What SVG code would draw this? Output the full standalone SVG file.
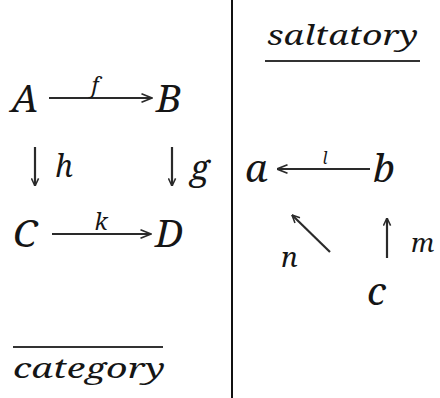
<svg xmlns="http://www.w3.org/2000/svg" width="440" height="398" viewBox="0 0 440 398">
<style>
.t{font-family:'Noto Serif','DejaVu Serif',serif;font-style:italic;fill:#151515}
.node{font-size:39px}
.c{stroke:#2a2a2a;stroke-width:2.2;fill:none}
.rule{stroke:#333;stroke-width:2}
</style>
<defs>
<marker id="ah" viewBox="0 0 12 10" refX="11.5" refY="5" markerWidth="12" markerHeight="10" markerUnits="userSpaceOnUse" orient="auto">
<path d="M1,0.8 L11.5,5 L1,9.2" fill="none" stroke="#2a2a2a" stroke-width="1.7"/>
</marker>
<marker id="as" viewBox="0 0 10 10" refX="9.5" refY="5" markerWidth="9" markerHeight="9" markerUnits="userSpaceOnUse" orient="auto">
<path d="M1,1 L9.5,5 L1,9" fill="none" stroke="#2a2a2a" stroke-width="1.7"/>
</marker>
</defs>
<rect width="440" height="398" fill="#fff"/>
<line x1="232" y1="0" x2="232" y2="398" stroke="#111" stroke-width="2"/>
<g id="title-saltatory">
<text class="t" x="267" y="45" font-size="28" textLength="151" lengthAdjust="spacingAndGlyphs">saltatory</text>
<line class="rule" x1="265" y1="61" x2="420" y2="61"/>
</g>
<g id="title-category">
<line class="rule" x1="13" y1="347" x2="163" y2="347"/>
<text class="t" x="13" y="378" font-size="28" textLength="152" lengthAdjust="spacingAndGlyphs">category</text>
</g>
<g id="connectors">
<line class="c" x1="49" y1="98" x2="152" y2="98" marker-end="url(#ah)"/>
<line class="c" x1="52" y1="234" x2="151" y2="234" marker-end="url(#ah)"/>
<line class="c" x1="35" y1="147" x2="35" y2="186" marker-end="url(#as)"/>
<line class="c" x1="172" y1="147" x2="172" y2="186" marker-end="url(#as)"/>
<line class="c" x1="370" y1="169" x2="277" y2="169" marker-end="url(#ah)"/>
<line class="c" x1="330" y1="252" x2="292" y2="215" marker-end="url(#as)"/>
<line class="c" x1="387" y1="258" x2="387" y2="218" marker-end="url(#as)"/>
<text class="t" x="95" y="93" font-size="22" text-anchor="middle">f</text>
<text class="t" x="101" y="230" font-size="23" text-anchor="middle">k</text>
<text class="t" x="55" y="177" font-size="30">h</text>
<text class="t" x="190" y="180" font-size="35">g</text>
<text class="t" x="325" y="164" font-size="16" text-anchor="middle">l</text>
<text class="t" x="281" y="267" font-size="28">n</text>
<text class="t" x="411" y="252" font-size="26">m</text>
</g>
<g id="node-A"><text class="t node" x="11" y="112">A</text></g>
<g id="node-B"><text class="t node" x="156" y="112">B</text></g>
<g id="node-C"><text class="t node" x="13" y="247">C</text></g>
<g id="node-D"><text class="t node" x="155" y="247">D</text></g>
<g id="node-a"><text class="t node" x="245" y="182">a</text></g>
<g id="node-b"><text class="t node" x="373" y="182">b</text></g>
<g id="node-c"><text class="t node" x="367" y="305">c</text></g>
</svg>
